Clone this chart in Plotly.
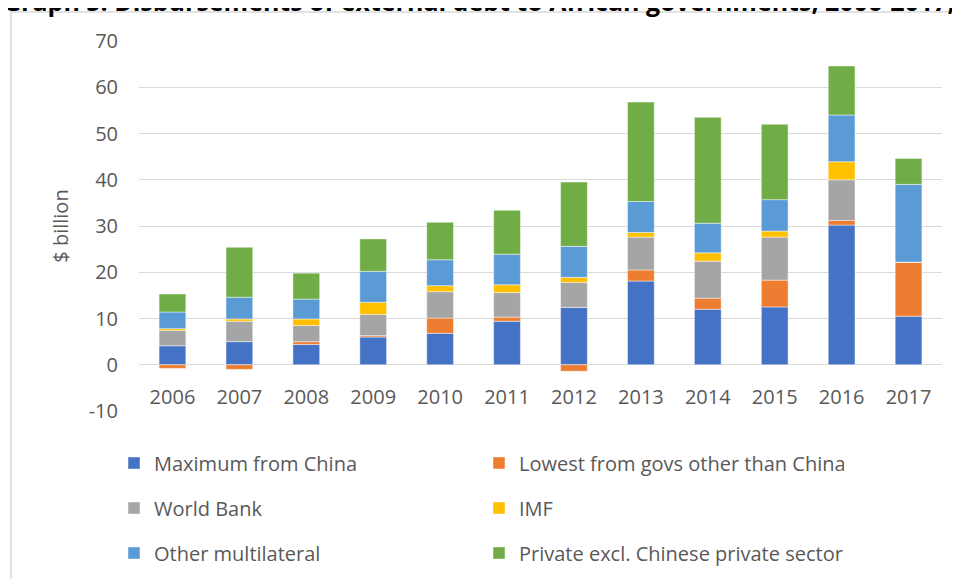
import plotly.graph_objects as go

years = ["2006", "2007", "2008", "2009", "2010", "2011", "2012", "2013", "2014", "2015", "2016", "2017"]
china = [4.1, 5.0, 4.4, 6.0, 6.8, 9.4, 12.4, 18.1, 12.0, 12.5, 30.2, 10.5]
lowest_govs = [-0.8, -1.0, 0.6, 0.3, 3.3, 0.9, -1.4, 2.4, 2.4, 5.8, 1.0, 11.7]
world_bank = [3.3, 4.4, 3.5, 4.6, 5.7, 5.3, 5.4, 7.1, 8.0, 9.3, 8.8, 0.0]
imf = [0.4, 0.5, 1.4, 2.6, 1.3, 1.7, 1.1, 1.0, 1.8, 1.3, 3.9, 0.0]
other_multilateral = [3.6, 4.7, 4.3, 6.7, 5.6, 6.6, 6.7, 6.7, 6.4, 6.8, 10.1, 16.8]
private_excl = [3.9, 10.8, 5.6, 7.0, 8.1, 9.5, 13.9, 21.5, 22.9, 16.3, 10.6, 5.6]

y_tick_values = [-10, 0, 10, 20, 30, 40, 50, 60, 70]
y_tick_labels = ["-10", "0", "10", "20", "30", "40", "50", "60", "70"]

series = [
    ("Maximum from China", china, "#4472C4", "legend"),
    ("Lowest from govs other than China", lowest_govs, "#ED7D31", "legend"),
    ("World Bank", world_bank, "#A5A5A5", "legend2"),
    ("IMF", imf, "#FFC000", "legend2"),
    ("Other multilateral", other_multilateral, "#5B9BD5", "legend3"),
    ("Private excl. Chinese private sector", private_excl, "#70AD47", "legend3"),
]

FONT = "Open Sans"
TXT = "#595959"

fig = go.Figure()
for name, vals, col, lg in series:
    fig.add_trace(go.Bar(
        x=years, y=vals, name=name, legend=lg,
        marker=dict(color=col, line=dict(color="rgba(255,255,255,0.45)", width=1)),
    ))

# page body adds an 8px offset; work in screen pixels and subtract it
OFF = 8
W, H = 960, 579
plot_left, plot_right, plot_top, plot_bottom = 139 - OFF, 942 - OFF, 41 - OFF, 411 - OFF
ml, mr, mt, mb = plot_left, W - plot_right, plot_top, H - plot_bottom

def py(screen_y):
    return (plot_bottom - (screen_y - OFF)) / (plot_bottom - plot_top)

def px(screen_x):
    return ((screen_x - OFF) - plot_left) / (plot_right - plot_left)

legend_common = dict(
    orientation="h", xanchor="left", yanchor="middle",
    font=dict(family=FONT, size=20, color=TXT),
    entrywidth=320, entrywidthmode="pixels",
    bgcolor="rgba(0,0,0,0)", itemclick=False,
)

fig.update_layout(
    width=W, height=H,
    margin=dict(l=ml, r=mr, t=mt, b=mb),
    paper_bgcolor="white", plot_bgcolor="white",
    barmode="relative", bargap=0.6,
    font=dict(family=FONT, size=20, color=TXT),
    legend=dict(x=px(114), y=py(463), **legend_common),
    legend2=dict(x=px(114), y=py(508), **legend_common),
    legend3=dict(x=px(114), y=py(553), **legend_common),
    xaxis=dict(
        type="category", anchor="free", position=0.125,
        showline=False, ticks="", showgrid=False,
        tickfont=dict(family=FONT, size=20, color=TXT),
        ticklabelstandoff=18,
    ),
    yaxis=dict(
        range=[-10, 70], tickmode="array", tickvals=y_tick_values, ticktext=y_tick_labels,
        showgrid=True, gridcolor="#D9D9D9", gridwidth=1,
        zeroline=True, zerolinecolor="#D9D9D9", zerolinewidth=1,
        showline=False, ticks="",
        tickfont=dict(family=FONT, size=20, color=TXT),
        ticklabelstandoff=20,
        title=dict(text="$ billion", font=dict(family=FONT, size=20, color=TXT), standoff=14),
    ),
    shapes=[dict(
        type="rect", xref="paper", yref="paper",
        x0=px(11), x1=px(990), y0=py(620), y1=py(12),
        line=dict(color="#D9D9D9", width=1.5), fillcolor="rgba(0,0,0,0)", layer="below",
    )],
    annotations=[dict(
        text="<b>Graph 5: Disbursements of external debt to African governments, 2006-2017, $ billion</b>",
        xref="paper", yref="paper", x=px(1), y=py(20), xanchor="left", yanchor="bottom",
        showarrow=False, font=dict(family=FONT, size=25, color="black"),
    )],
)

fig.write_html("out.html")
